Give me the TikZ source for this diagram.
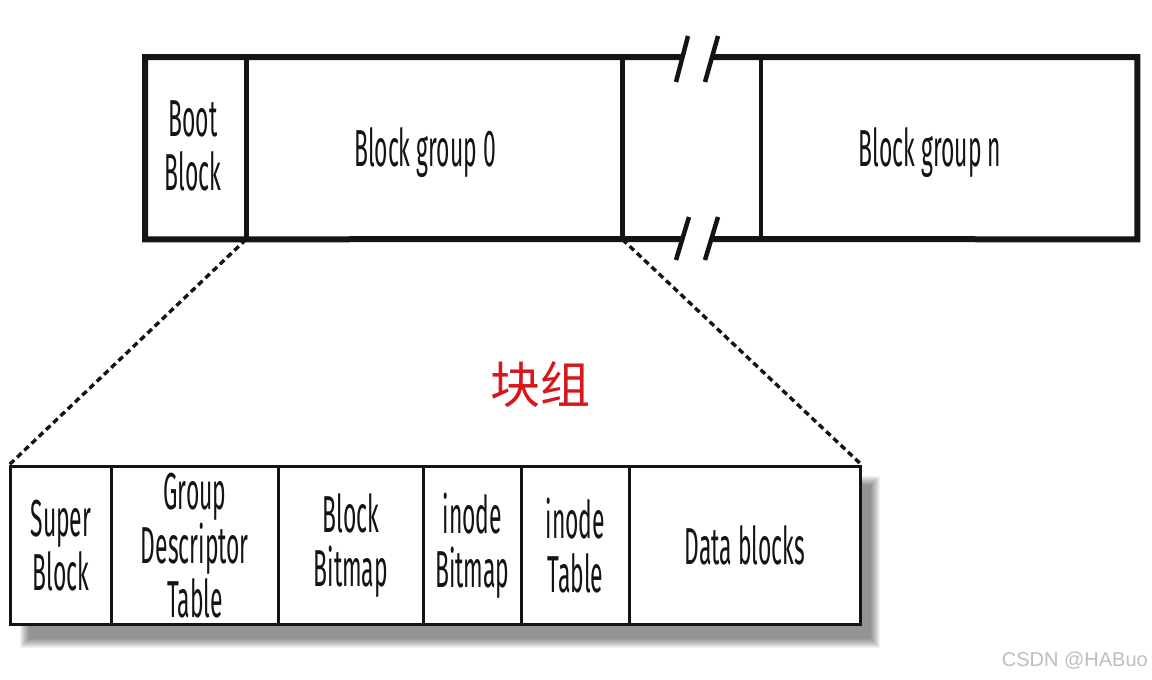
\documentclass[tikz,border=0pt]{standalone}
\usepackage{fontspec}
\newfontfamily\cond[FakeStretch=0.44]{Fira Sans}
\newfontfamily\cjk{Noto Sans CJK SC}
\newfontfamily\wmfont{Liberation Sans}
\definecolor{ink}{RGB}{20,20,20}
\definecolor{cnred}{RGB}{214,24,28}
\definecolor{wmgray}{RGB}{190,190,190}
\tikzset{
  cell/.style={draw=none, minimum height=182pt, inner sep=0pt, anchor=north west},
  lowcell/.style={draw=ink, line width=2.8pt, fill=white, minimum height=158pt, inner sep=0pt, anchor=north west,
     align=center, font=\cond\fontsize{52}{54}\selectfont, text=ink},
  label/.style={align=center, font=\cond\fontsize{52}{54}\selectfont, text=ink, inner sep=0pt},
  heavy/.style={draw=ink, line width=6pt, line join=miter},
  divider/.style={draw=ink, line width=4.5pt},
  brk/.style={draw=ink, line width=4.5pt},
  zoomline/.style={draw=ink, line width=3.4pt, dash pattern=on 6pt off 4pt}
}
\begin{document}
\begin{tikzpicture}[x=1pt,y=-1pt]
\useasboundingbox[fill=white] (0,0) rectangle (1152,680);

% top row cells (positions only)
\node[cell, minimum width=101pt] (boot) at (145,57) {};
\node[cell, minimum width=376pt] (bg0) at (246,57) {};
\node[cell, minimum width=139pt] (gap) at (622,57) {};
\node[cell, minimum width=376pt] (bgn) at (761,57) {};

\coordinate (brkTL) at (682,57);
\coordinate (brkTR) at (712,57);
\coordinate (brkBL) at (682,239);
\coordinate (brkBR) at (712,239);

\draw[heavy] (brkTL) -- (boot.north west) -- (boot.south west) -- (brkBL);
\draw[heavy] (brkTR) -- (bgn.north east) -- (bgn.south east) -- (brkBR);
\draw[divider] (boot.north east) -- (boot.south east);
\draw[divider] (bg0.north east) -- (bg0.south east);
\draw[divider] (bgn.north west) -- (bgn.south west);

% break marks
\draw[brk] (676,82) -- (688,36);
\draw[brk] (705,82) -- (718,36);
\draw[brk] (676,260) -- (689,217);
\draw[brk] (705,260) -- (718,217);

\node[label] (tboot) at (193,146) {Boot\\Block};
\node[label] (tbg0) at (425,153) {Block group 0};
\node[label] (tbgn) at (930,153) {Block group n};

% Chinese title
\node[font=\cjk\fontsize{50}{52}\selectfont, text=cnred, inner sep=0pt] (title) at (540,385) {块组};

% shadow of lower box
\foreach \k in {0,...,9}{
  \fill[black, opacity=0.05] (20+\k,476+\k) rectangle (880-\k,648-\k);
}

% lower row
\node[lowcell, minimum width=101pt] (super) at (9,465) {Super\\Block};
\node[lowcell, minimum width=167pt] (gdt) at (110,465) {Group\\Descriptor\\Table};
\node[lowcell, minimum width=145pt] (bbm) at (277,465) {Block\\Bitmap};
\node[lowcell, minimum width=98pt] (ibm) at (422,465) {inode\\Bitmap};
\node[lowcell, minimum width=108pt] (itab) at (520,465) {inode\\Table};
\node[lowcell, minimum width=231pt] (data) at (628,465) {Data blocks};

% zoom connectors
\draw[zoomline] (bg0.south west) -- (super.north west);
\draw[zoomline] (bg0.south east) -- (data.north east);

% watermark
\node[font=\wmfont\fontsize{20}{22}\selectfont, text=wmgray, anchor=south east, inner sep=0pt] (wm) at (1148,669) {CSDN @HABuo};
\end{tikzpicture}
\end{document}
